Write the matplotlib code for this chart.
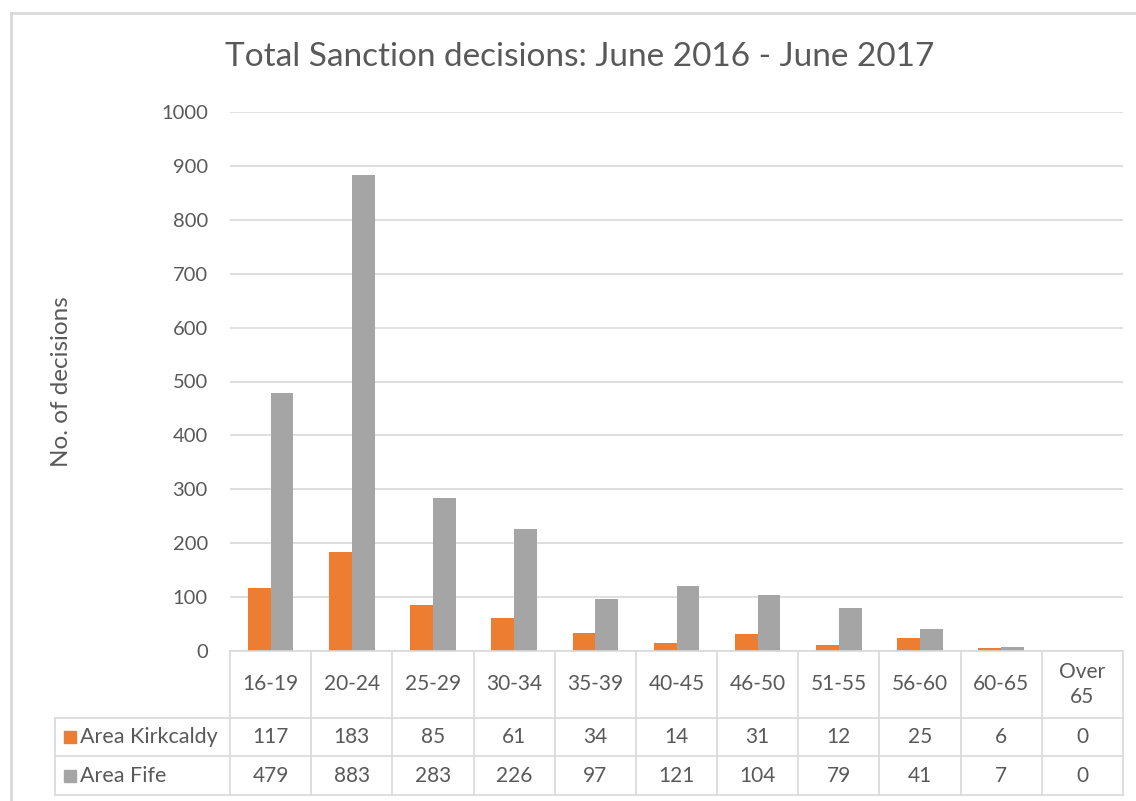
import matplotlib
matplotlib.use('Agg')
import matplotlib.pyplot as plt
from matplotlib.lines import Line2D
from matplotlib.patches import Rectangle
import numpy as np

age_groups = ['16-19', '20-24', '25-29', '30-34', '35-39', '40-45', '46-50',
              '51-55', '56-60', '60-65', 'Over\n65']
kirkcaldy = [117, 183, 85, 61, 34, 14, 31, 12, 25, 6, 0]
fife = [479, 883, 283, 226, 97, 121, 104, 79, 41, 7, 0]
series_names = ['Area Kirkcaldy', 'Area Fife']

ORANGE = '#ED7D31'
GREY = '#A5A5A5'
TEXT = '#595959'
LINE = '#D9D9D9'

plt.rcParams['font.family'] = ['Lato', 'DejaVu Sans']

W, H = 1136, 801
fig = plt.figure(figsize=(W / 100, H / 100), dpi=100)


def fx(px):
    return px / W


def fy(py):
    return 1 - py / H


# plot area in pixel terms
left, right, top, bottom = 230, 1123, 112, 651
ax = fig.add_axes([fx(left), fy(bottom), fx(right) - fx(left), fy(top) - fy(bottom)])

x = np.arange(len(age_groups))
bw = 0.28
ax.bar(x - bw / 2, kirkcaldy, bw, color=ORANGE, zorder=3)
ax.bar(x + bw / 2, fife, bw, color=GREY, zorder=3)

ax.set_xlim(-0.5, len(age_groups) - 0.5)
ax.set_ylim(0, 1000)
ax.set_yticks(np.arange(0, 1001, 100))
ax.tick_params(axis='y', length=0, pad=16, labelsize=14.5, labelcolor=TEXT)
ax.set_xticks([])
ax.grid(axis='y', color=LINE, linewidth=1.2, zorder=0)
for s in ax.spines.values():
    s.set_visible(False)

ax.set_ylabel('No. of decisions', fontsize=17.5, color=TEXT)
ax.yaxis.set_label_coords((72 - left) / (right - left), 0.5)

fig.text(fx(580), fy(57), 'Total Sanction decisions: June 2016 - June 2017',
         ha='center', va='center', fontsize=24, color=TEXT)

# data table beneath the plot
row_lines = [651, 718, 756, 795]
tbl_left = 55
cat_w = (right - left) / len(age_groups)
lw = 1.2

fig.add_artist(Line2D([fx(left), fx(right)], [fy(651), fy(651)], color=LINE, lw=lw))
for yy in row_lines[1:]:
    fig.add_artist(Line2D([fx(tbl_left), fx(right)], [fy(yy), fy(yy)], color=LINE, lw=lw))
fig.add_artist(Line2D([fx(tbl_left), fx(tbl_left)], [fy(718), fy(795)], color=LINE, lw=lw))
for i in range(len(age_groups) + 1):
    xx = left + i * cat_w
    fig.add_artist(Line2D([fx(xx), fx(xx)], [fy(651), fy(795)], color=LINE, lw=lw))

for i, lab in enumerate(age_groups):
    cx = left + (i + 0.5) * cat_w
    fig.text(fx(cx), fy((651 + 718) / 2), lab, ha='center', va='center',
             fontsize=15, color=TEXT, linespacing=1.3)
    for r, vals in enumerate([kirkcaldy, fife]):
        cy = (row_lines[r + 1] + row_lines[r + 2]) / 2
        fig.text(fx(cx), fy(cy), str(vals[i]), ha='center', va='center',
                 fontsize=15, color=TEXT)

for r, (name, col) in enumerate(zip(series_names, [ORANGE, GREY])):
    cy = (row_lines[r + 1] + row_lines[r + 2]) / 2
    fig.add_artist(Rectangle((fx(64), fy(cy + 6)), fx(12), fy(0) - fy(12),
                             color=col, transform=fig.transFigure))
    fig.text(fx(80), fy(cy), name, ha='left', va='center', fontsize=15.5, color=TEXT)

# outer chart frame
fig.add_artist(Line2D([fx(11), fx(W)], [fy(13), fy(13)], color=LINE, lw=2))
fig.add_artist(Line2D([fx(11), fx(11)], [fy(13), fy(H)], color=LINE, lw=2))

fig.savefig('out.png', dpi=100, facecolor='white')
